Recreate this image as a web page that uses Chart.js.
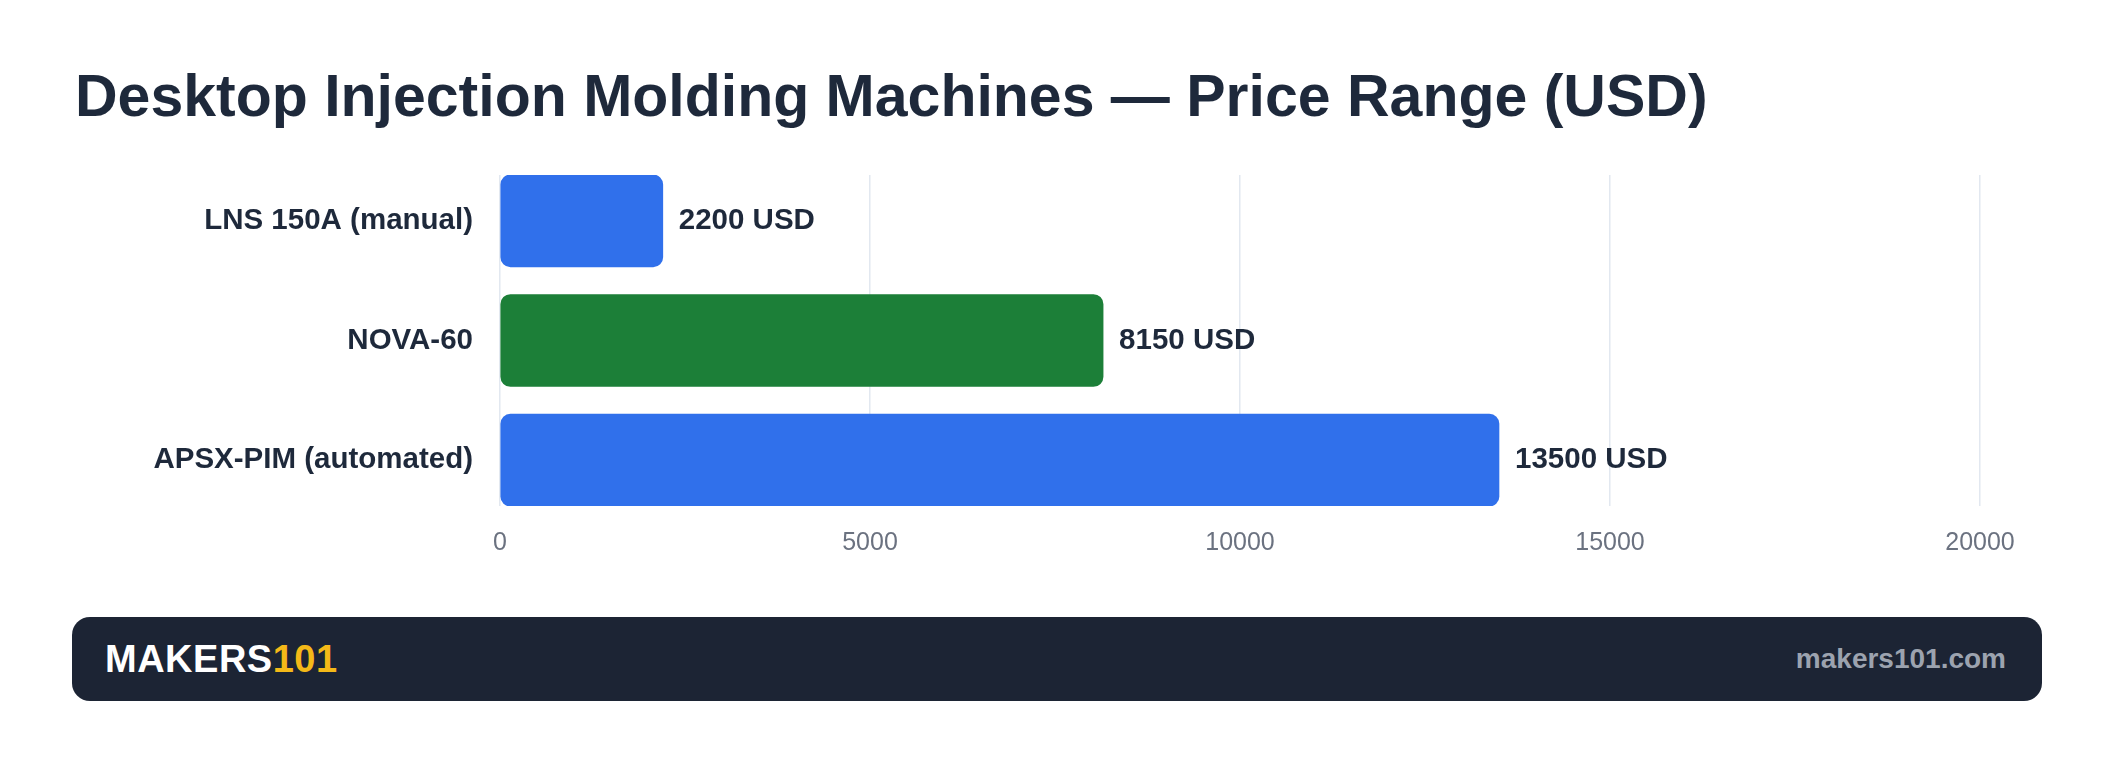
<!DOCTYPE html>
<html>
<head>
<meta charset="utf-8">
<script src="https://cdn.jsdelivr.net/npm/chart.js@4.4.1/dist/chart.umd.min.js"></script>
<style>
html, body { margin: 0; padding: 0; background: #fff; width: 2112px; height: 774px; overflow: hidden;
  font-family: 'Liberation Sans', Arial, Helvetica, sans-serif; }
#titulo { position: absolute; left: 75px; top: 67px; font-size: 59px; line-height: 59px; font-weight: bold;
  color: #1e293b; white-space: nowrap; }
#caja { position: absolute; left: 72px; top: 150px; width: 1970px; height: 443px; }
#pie { position: absolute; left: 72px; top: 617px; width: 1970px; height: 84px; border-radius: 18px;
  background: #1c2434; display: flex; align-items: center; justify-content: space-between;
  padding: 0 36px 0 33px; box-sizing: border-box; }
#marca { font-size: 38px; font-weight: bold; color: #fff; letter-spacing: 0.5px; }
#marca span { color: #f4b918; }
#web { font-size: 28px; font-weight: bold; color: #9ca3af; }
</style>
</head>
<body>
<div id="titulo">Desktop Injection Molding Machines — Price Range (USD)</div>
<div id="caja"><canvas id="grafica"></canvas></div>
<div id="pie"><div id="marca">MAKERS<span>101</span></div><div id="web">makers101.com</div></div>
<script>
// datos
var modelos = ['LNS 150A (manual)', 'NOVA-60', 'APSX-PIM (automated)'];
var precios = [2200, 8150, 13500];
var ticksX = [0, 5000, 10000, 15000, 20000];
var unidad = 'USD';

var colores = ['#3070eb', '#1c7f38', '#3070eb'];
var fuente = "'Liberation Sans', Arial, Helvetica, sans-serif";

// etiqueta con el precio al final de cada barra
var etiquetas = {
    id: 'etiquetas',
    afterDatasetsDraw: function(chart) {
        var ctx = chart.ctx;
        var meta = chart.getDatasetMeta(0);
        ctx.save();
        ctx.font = 'bold 29.5px ' + fuente;
        ctx.fillStyle = '#1e293b';
        ctx.textBaseline = 'middle';
        ctx.textAlign = 'left';
        meta.data.forEach(function(barra, i) {
            ctx.fillText(precios[i] + ' ' + unidad, barra.x + 16, barra.y);
        });
        ctx.restore();
    }
};

var ctx = document.getElementById('grafica').getContext('2d');
var grafica = new Chart(ctx, {
    type: 'bar',
    data: {
        datasets: [{
            data: precios.map(function(p, i) { return { x: p, y: i }; }),
            backgroundColor: colores,
            barThickness: 92,
            borderRadius: 10,
            borderSkipped: false
        }]
    },
    plugins: [etiquetas],
    options: {
        indexAxis: 'y',
        responsive: true,
        maintainAspectRatio: false,
        animation: false,
        layout: { padding: { top: 25, right: 62, bottom: 13, left: 0 } },
        plugins: {
            legend: { display: false },
            tooltip: { enabled: false }
        },
        scales: {
            x: {
                type: 'linear',
                min: 0,
                max: 20000,
                grid: { color: '#e2e8f0', lineWidth: 1.5, drawTicks: false },
                border: { display: false },
                afterBuildTicks: function(s) { s.ticks = ticksX.map(function(v) { return { value: v }; }); },
                ticks: {
                    color: '#6b7280',
                    font: { family: fuente, size: 25 },
                    padding: 22,
                    callback: function(v) { return String(v); }
                }
            },
            y: {
                type: 'linear',
                reverse: true,
                offset: false,
                min: -0.383,
                max: 2.383,
                grid: { display: false, drawTicks: false, offset: false },
                border: { display: false },
                afterBuildTicks: function(s) { s.ticks = modelos.map(function(m, i) { return { value: i }; }); },
                afterFit: function(s) { s.width = 428; s.paddingTop = 0; s.paddingBottom = 0; },
                ticks: {
                    autoSkip: false,
                    callback: function(v) { return modelos[v]; },
                    color: '#1e293b',
                    font: { family: fuente, size: 29.5, weight: 'bold' },
                    padding: 27
                }
            }
        }
    }
});
</script>
</body>
</html>
